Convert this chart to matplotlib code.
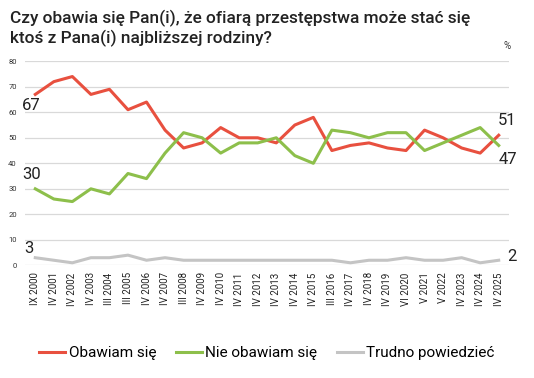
import matplotlib.pyplot as plt

plt.rcParams["font.family"] = ["Roboto", "DejaVu Sans"]

labels = [
    "IX 2000", "IV 2001", "IV 2002", "IV 2003", "III 2004", "III 2005",
    "IV 2006", "IV 2007", "III 2008", "IV 2009", "IV 2010", "IV 2011",
    "IV 2012", "IV 2013", "IV 2014", "IV 2015", "III 2016", "IV 2017",
    "IV 2018", "IV 2019", "VI 2020", "V 2021", "V 2022", "IV 2023",
    "IV 2024", "IV 2025",
]
obawiam = [67, 72, 74, 67, 69, 61, 64, 53, 46, 48, 54, 50, 50, 48, 55, 58,
           45, 47, 48, 46, 45, 53, 50, 46, 44, 51]
nie_obawiam = [30, 26, 25, 30, 28, 36, 34, 44, 52, 50, 44, 48, 48, 50, 43, 40,
               53, 52, 50, 52, 52, 45, 48, 51, 54, 47]
trudno = [3, 2, 1, 3, 3, 4, 2, 3, 2, 2, 2, 2, 2, 2, 2, 2, 2, 1, 2, 2, 3, 2, 2,
          3, 1, 2]

RED = "#e8503f"
GREEN = "#8dbf4b"
GRAY = "#c4c4c4"
TXT = "#222222"

fig = plt.figure(figsize=(5.34, 3.78), dpi=100)
ax = fig.add_axes([0.047, 0.298, 0.906, 0.54])

x = list(range(len(labels)))
ax.plot(x, obawiam, color=RED, lw=2.2, label="Obawiam się")
ax.plot(x, nie_obawiam, color=GREEN, lw=2.2, label="Nie obawiam się")
ax.plot(x, trudno, color=GRAY, lw=2.2, label="Trudno powiedzieć")

ax.set_ylim(0, 80)
ax.set_xlim(-0.55, len(labels) - 0.45)
ax.set_yticks(range(0, 81, 10))
ax.tick_params(axis="y", labelsize=5.5, length=0, pad=6, labelcolor="#333333")
ax.set_xticks(x)
ax.set_xticklabels(labels, rotation=90, fontsize=7, color=TXT)
ax.tick_params(axis="x", length=0, pad=5)
ax.grid(axis="y", color="#d9d9d9", lw=0.9)
ax.set_axisbelow(True)
for s in ax.spines.values():
    s.set_visible(False)

# end labels
def label(i, y, dx, dy, va):
    ax.annotate(str(y), (x[i], y), xytext=(dx, dy), textcoords="offset points",
                fontsize=12, color=TXT, va=va, ha="left")

label(0, obawiam[0], -9.5, -2.5, "top")
label(0, nie_obawiam[0], -9.5, 5, "bottom")
label(0, trudno[0], -8, 1.5, "bottom")
label(-1, obawiam[-1], -1, 5.5, "bottom")
label(-1, nie_obawiam[-1], 0, -4.5, "top")
label(-1, trudno[-1], 6, 3, "center")

fig.text(0.019, 0.975, "Czy obawia się Pan(i), że ofiarą przestępstwa może stać się\n"
         "ktoś z Pana(i) najbliższej rodziny?", ha="left", va="top",
         fontsize=12.4, fontweight="medium", color=TXT, linespacing=1.25)
fig.text(0.942, 0.877, "%", fontsize=7, color="#333333", ha="left", va="center")

fig.legend(loc="lower center", bbox_to_anchor=(0.5, 0.01), ncol=3, frameon=False,
           fontsize=11, handlelength=1.7, handletextpad=0.25, columnspacing=1.25)

fig.savefig("out.png", dpi=100)
